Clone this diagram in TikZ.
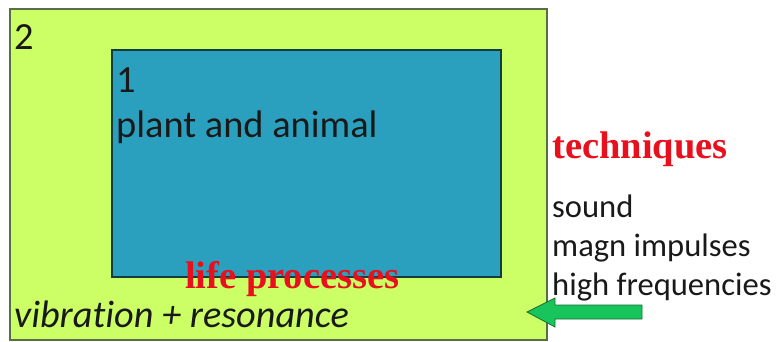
\documentclass[tikz,border=0pt]{standalone}
\usepackage{fontspec}
\setmainfont{Carlito}[Ligatures=NoCommon]
\newfontfamily\serifbold{Liberation Serif}
\definecolor{outerfill}{RGB}{204,255,102}
\definecolor{outerline}{RGB}{90,110,70}
\definecolor{innerfill}{RGB}{43,160,190}
\definecolor{innerline}{RGB}{20,60,60}
\definecolor{redtxt}{RGB}{232,16,28}
\definecolor{arrowfill}{RGB}{24,196,92}
\definecolor{arrowline}{RGB}{20,110,50}
\begin{document}
\begin{tikzpicture}[x=1pt,y=-1pt,
  txt/.style={anchor=base west,inner sep=0pt,font=\fontsize{38.4}{42}\selectfont,text=black!90},
  listtxt/.style={anchor=base west,inner sep=0pt,font=\fontsize{32.6}{38}\selectfont,text=black!90},
  redlab/.style={anchor=base west,inner sep=0pt,font=\fontsize{38.5}{42}\serifbold\bfseries\selectfont,text=redtxt}]
\useasboundingbox (0,0) rectangle (779,342);
\draw[fill=outerfill,draw=outerline,line width=1.2pt] (10,9) rectangle (547,340);
\draw[fill=innerfill,draw=innerline,line width=1.2pt] (112,50) rectangle (501,277);
\node[txt] (two) at (14,50) {2};
\node[txt] (one) at (116,93) {1};
\node[txt] (plant) at (116,138) {plant and animal};
\node[redlab] (tech) at (552,159) {techniques};
\node[listtxt] (sound) at (552,217) {sound};
\node[listtxt] (magn) at (552,256) {magn impulses};
\node[listtxt] (high) at (552,295) {high frequencies};
\node[redlab] (life) at (185,288) {life processes};
\node[txt,font=\fontsize{38.3}{42}\itshape\selectfont] (vib) at (14,327) {vibration + resonance};
\draw[fill=arrowfill,draw=arrowline,line width=0.8pt] (642,305) -- (555,305) -- (555,298) -- (527,312) -- (555,327) -- (555,319) -- (642,319) -- cycle;
\end{tikzpicture}
\end{document}
